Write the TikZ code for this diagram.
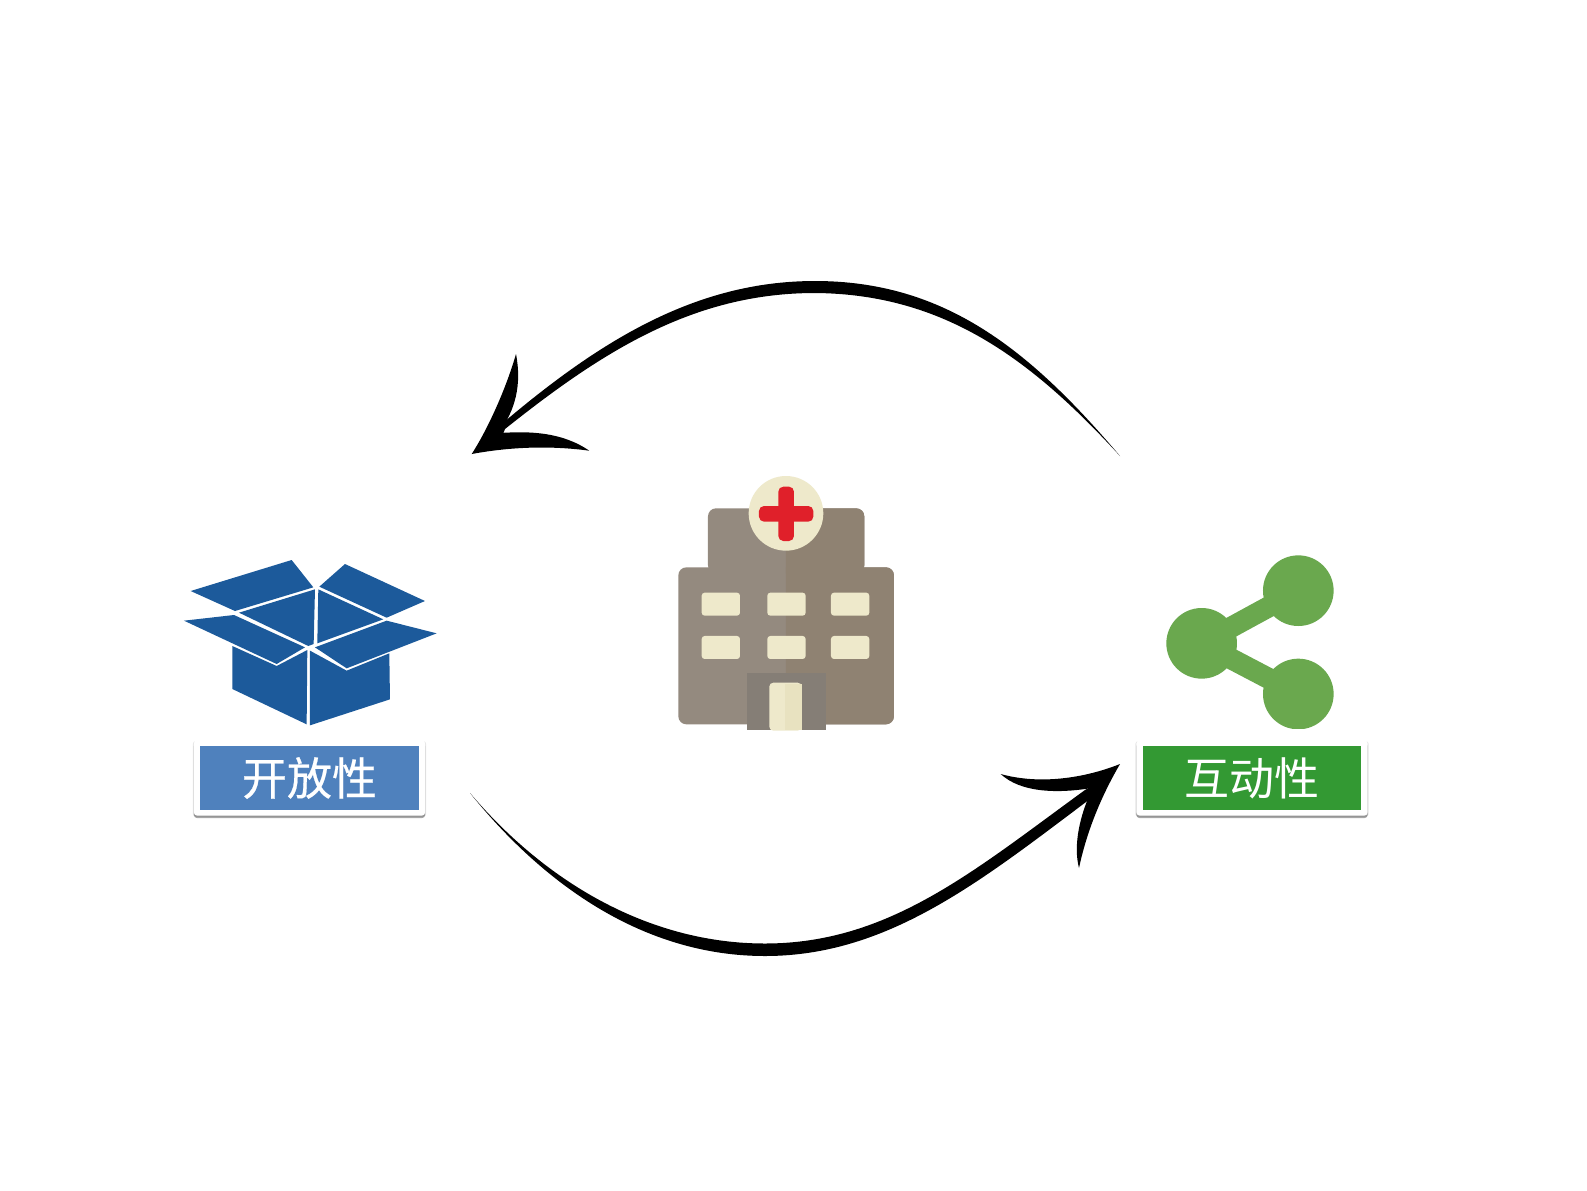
\documentclass[tikz,border=0pt]{standalone}
\usepackage{fontspec}
\newfontfamily\cjk{Noto Sans CJK SC}
\newfontfamily\cjkheavy[FakeBold=0.5]{Noto Sans CJK SC}
\usetikzlibrary{shadows}
\definecolor{boxblue}{RGB}{28,90,155}
\definecolor{openblue}{RGB}{79,129,189}
\definecolor{sharegreen}{RGB}{106,168,78}
\definecolor{labelgreen}{RGB}{51,153,51}
\definecolor{wallleft}{RGB}{148,138,127}
\definecolor{wallright}{RGB}{143,130,114}
\definecolor{doorframe}{RGB}{133,126,118}
\definecolor{cream}{RGB}{238,233,203}
\definecolor{creamdark}{RGB}{232,226,192}
\definecolor{crossred}{RGB}{224,32,42}
\tikzset{
  labelcard/.style={fill=white,minimum width=2.31cm,minimum height=0.75cm,rounded corners=0.03cm,inner sep=0pt,
    drop shadow={shadow xshift=0cm,shadow yshift=-0.01cm,shadow scale=1.01,opacity=0.10,fill=black},
    drop shadow={shadow xshift=0cm,shadow yshift=-0.025cm,opacity=0.35,fill=black}},
  labeltext/.style={minimum width=2.18cm,minimum height=0.63cm,inner sep=0pt,text=white},
  arrowfill/.style={fill=black,draw=none},
  boxface/.style={fill=boxblue,draw=none},
  pane/.style={fill=cream,rounded corners=0.03cm}
}
\begin{document}
\begin{tikzpicture}[x=0.01cm,y=-0.01cm]
\useasboundingbox (0,0) rectangle (1587,1190);
\fill[white] (0,0) rectangle (1587,1190);
% top arrow
\coordinate (topstart) at (1120,456);
\coordinate (toptip) at (471.7,454);
\fill[arrowfill] (topstart) .. controls (1030,350) and (945,281) .. (815,281) .. controls (695,281) and (598,341.5) .. (497,428)
  -- (488,440) -- (503,434) -- (505,429) .. controls (604,350) and (695,293) .. (815,293) .. controls (945,294) and (1032,360) .. (topstart);
\fill[arrowfill] (toptip) .. controls (486,432) and (505,392) .. (516,354) .. controls (522,385) and (515,410) .. (500,431)
  -- (500,433) .. controls (530,431) and (562,432) .. (589.3,450.7) .. controls (555,446) and (515,446) .. (toptip);
% bottom arrow
\coordinate (botstart) at (470,793);
\coordinate (bottip) at (1120,764);
\fill[arrowfill] (botstart) .. controls (549,886) and (653,943.5) .. (765,943.5) .. controls (889,943.5) and (974,870.6) .. (1085,790)
  -- (1102,780) -- (1094,796) .. controls (982,880) and (889,956) .. (765,956) .. controls (645,956) and (545,886) .. (botstart);
\fill[arrowfill] (bottip) .. controls (1085,778) and (1040,785) .. (1000.7,774) .. controls (1020,792) and (1055,794) .. (1091.7,788)
  -- (1091.7,790) .. controls (1080,815) and (1073,845) .. (1079,868) .. controls (1086,835) and (1099,800) .. (bottip);
% open box
\begin{scope}[shift={(170,540)},scale=0.3333]
\fill[boxface] (62,153) -- (365,60) -- (430,142) -- (195,213) -- cycle;
\fill[boxface] (448,140) -- (525,72) -- (765,183) -- (650,233) -- cycle;
\fill[boxface] (207,218) -- (435,148) -- (431,312) -- (415,318) -- cycle;
\fill[boxface] (445,148) -- (640,238) -- (442,310) -- cycle;
\fill[boxface] (42,242) -- (192,225) -- (405,322) -- (320,372) -- cycle;
\fill[boxface] (435,322) -- (650,242) -- (800,280) -- (530,385) -- cycle;
\fill[boxface] (187,318) -- (320,378) -- (412,330) -- (410,553) -- (187,447) -- cycle;
\fill[boxface] (420,332) -- (530,392) -- (658,340) -- (660,478) -- (420,556) -- cycle;
\end{scope}
% hospital
\begin{scope}[shift={(650,460)},scale=0.3333]
\fill[wallleft,rounded corners=0.08cm] (174,340) -- (174,145) -- (643,145) -- (643,340) -- cycle;
\fill[wallleft,rounded corners=0.08cm] (85,793) -- (85,322) -- (732,322) -- (732,793) -- cycle;
\begin{scope}
\clip (408,100) rectangle (760,810);
\fill[wallright,rounded corners=0.08cm] (174,340) -- (174,145) -- (643,145) -- (643,340) -- cycle;
\fill[wallright,rounded corners=0.08cm] (85,793) -- (85,322) -- (732,322) -- (732,793) -- cycle;
\end{scope}
\fill[doorframe] (290,638) rectangle (527,810);
\fill[cream,rounded corners=0.04cm] (358,812) -- (358,668) -- (455,668) -- (455,812) -- cycle;
\fill[creamdark] (405,672) rectangle (455,810);
\fill[cream] (408,160) circle (112);
\fill[crossred,rounded corners=0.05cm] (385,80) rectangle (432,243);
\fill[crossred,rounded corners=0.05cm] (327,138) rectangle (490,185);
\foreach \x in {155,352,543} {
  \foreach \y in {398,528} {
    \fill[pane] (\x,\y) rectangle ++(115,69);
  }
}
\end{scope}
% share icon
\begin{scope}[shift={(1110,540)},scale=0.3333]
\clip (150,30) rectangle (690,567);
\fill[sharegreen] (565,152) circle (106);
\fill[sharegreen] (275,310) circle (106);
\fill[sharegreen] (565,462) circle (106);
\draw[sharegreen,line width=0.21cm] (565,152) -- (275,310) -- (565,462);
\end{scope}
% labels
\node[labelcard] (opencard) at (309.5,778) {};
\node[labeltext,fill=openblue,font=\cjkheavy\fontsize{12.8}{14}\selectfont] (openlabel) at (opencard) {\raisebox{0.9pt}{开放性}};
\node[labelcard] (sharecard) at (1252,778) {};
\node[labeltext,fill=labelgreen,font=\cjk\fontsize{12.8}{14}\selectfont] (sharelabel) at (sharecard) {\raisebox{0.9pt}{互动性}};
\end{tikzpicture}
\end{document}
